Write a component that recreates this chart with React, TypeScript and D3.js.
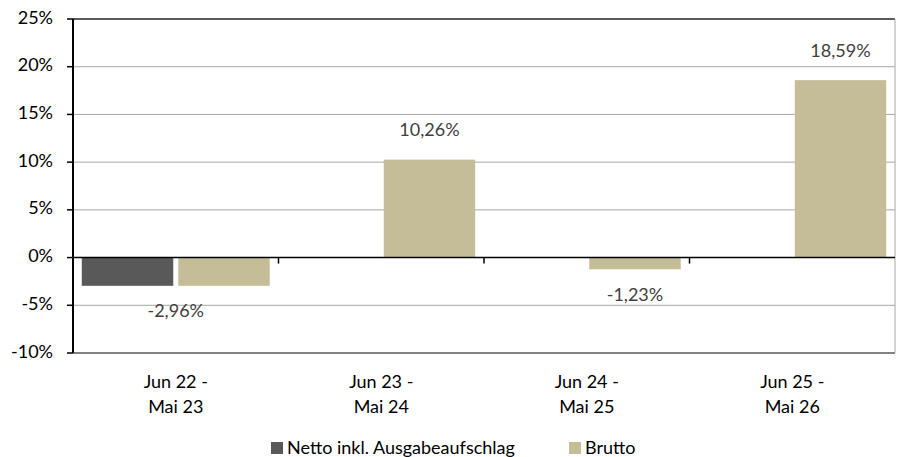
import { useRef, useEffect } from "react";
import * as d3 from "d3";

const categories = ["Jun 22 -\nMai 23", "Jun 23 -\nMai 24", "Jun 24 -\nMai 25", "Jun 25 -\nMai 26"];
const series = ["Netto inkl. Ausgabeaufschlag", "Brutto"];
const netto: (number | null)[] = [-2.96, null, null, null];
const brutto: (number | null)[] = [-2.96, 10.26, -1.23, 18.59];
const yTicks = [-10, -5, 0, 5, 10, 15, 20, 25];
const colors = ["#595959", "#c4bd97"];

const W = 901;
const H = 457;
const FONT = "Lato, 'Open Sans', sans-serif";
const FS = "18px";

export default function App() {
  const svgRef = useRef<SVGSVGElement>(null);

  useEffect(() => {
    if (!svgRef.current) return;
    const svg = d3.select(svgRef.current);
    svg.selectAll("*").remove();

    const left = 73, right = 895, top = 19, bottom = 353;

    const x = d3.scaleBand<string>().domain(categories).range([left, right]).padding(0);
    const xs = d3.scaleBand<string>()
      .domain(series)
      .range([0, x.bandwidth()])
      .paddingInner(0.052)
      .paddingOuter(0.091);
    const y = d3.scaleLinear().domain([-10, 25]).range([bottom, top]);

    // grid lines
    svg.append("g")
      .selectAll("line")
      .data(yTicks.filter(t => t !== 0 && t !== 25 && t !== -10))
      .join("line")
      .attr("x1", left).attr("x2", right)
      .attr("y1", d => y(d)).attr("y2", d => y(d))
      .attr("stroke", "#a6a6a6")
      .attr("stroke-width", 1);

    // frame
    svg.append("line").attr("x1", left).attr("x2", right).attr("y1", y(25)).attr("y2", y(25))
      .attr("stroke", "#262626").attr("stroke-width", 1.5);
    svg.append("line").attr("x1", left).attr("x2", right).attr("y1", y(-10)).attr("y2", y(-10))
      .attr("stroke", "#595959").attr("stroke-width", 1.5);
    svg.append("line").attr("x1", right).attr("x2", right).attr("y1", top).attr("y2", bottom)
      .attr("stroke", "#a6a6a6").attr("stroke-width", 1);

    // bars
    const data = [netto, brutto];
    data.forEach((vals, si) => {
      svg.append("g")
        .selectAll("rect")
        .data(categories.map((c, i) => ({ c, v: vals[i] })).filter(d => d.v !== null))
        .join("rect")
        .attr("x", d => (x(d.c) as number) + (xs(series[si]) as number))
        .attr("width", xs.bandwidth())
        .attr("y", d => y(Math.max(0, d.v as number)))
        .attr("height", d => Math.abs(y(d.v as number) - y(0)))
        .attr("fill", colors[si]);
    });

    // value labels (Brutto)
    const fmt = (v: number) => v.toFixed(2).replace(".", ",") + "%";
    categories.forEach((c, i) => {
      const v = brutto[i];
      if (v === null) return;
      const cx = netto[i] !== null
        ? (x(c) as number) + x.bandwidth() / 2
        : (x(c) as number) + (xs(series[1]) as number) + xs.bandwidth() / 2;
      const cy = v >= 0 ? y(v) - 28 : y(v) + 27;
      svg.append("text")
        .attr("x", cx)
        .attr("y", cy)
        .attr("text-anchor", "middle")
        .attr("dominant-baseline", "middle")
        .attr("fill", "#404040")
        .attr("font-size", FS)
        .attr("font-family", FONT)
        .text(fmt(v));
    });

    // zero line and ticks
    svg.append("line").attr("x1", left).attr("x2", right).attr("y1", y(0)).attr("y2", y(0))
      .attr("stroke", "#000").attr("stroke-width", 1.5);
    svg.append("g")
      .selectAll("line")
      .data(categories.slice(1))
      .join("line")
      .attr("x1", d => x(d) as number).attr("x2", d => x(d) as number)
      .attr("y1", y(0)).attr("y2", y(0) + 6)
      .attr("stroke", "#000").attr("stroke-width", 1.5);

    // y axis
    svg.append("line").attr("x1", left).attr("x2", left).attr("y1", top).attr("y2", bottom)
      .attr("stroke", "#000").attr("stroke-width", 2);
    const ya = svg.append("g");
    ya.selectAll("line")
      .data(yTicks)
      .join("line")
      .attr("x1", left - 6).attr("x2", left)
      .attr("y1", d => y(d)).attr("y2", d => y(d))
      .attr("stroke", "#000").attr("stroke-width", 1.5);
    ya.selectAll("text")
      .data(yTicks)
      .join("text")
      .attr("x", 53)
      .attr("y", d => y(d))
      .attr("text-anchor", "end")
      .attr("dominant-baseline", "middle")
      .attr("fill", "#000")
      .attr("font-size", FS)
      .attr("font-family", FONT)
      .text(d => `${d}%`);

    // x labels
    categories.forEach(c => {
      const t = svg.append("text")
        .attr("x", (x(c) as number) + x.bandwidth() / 2)
        .attr("text-anchor", "middle")
        .attr("fill", "#000")
        .attr("font-size", FS)
        .attr("font-family", FONT);
      c.split("\n").forEach((line, li) => {
        t.append("tspan")
          .attr("x", (x(c) as number) + x.bandwidth() / 2)
          .attr("y", 388 + li * 25)
          .text(line);
      });
    });

    // legend
    const legendX = [271, 569];
    series.forEach((s, i) => {
      svg.append("rect")
        .attr("x", legendX[i]).attr("y", 442)
        .attr("width", 12).attr("height", 12)
        .attr("fill", colors[i]);
      svg.append("text")
        .attr("x", legendX[i] + 16).attr("y", 454)
        .attr("fill", "#000")
        .attr("font-size", FS)
        .attr("font-family", FONT)
        .text(s);
    });
  }, []);

  return (
    <div style={{ position: "absolute", left: 0, top: 0, background: "#fff" }}>
      <svg ref={svgRef} width={W} height={H} viewBox={`0 0 ${W} ${H}`} style={{ display: "block" }} />
    </div>
  );
}
